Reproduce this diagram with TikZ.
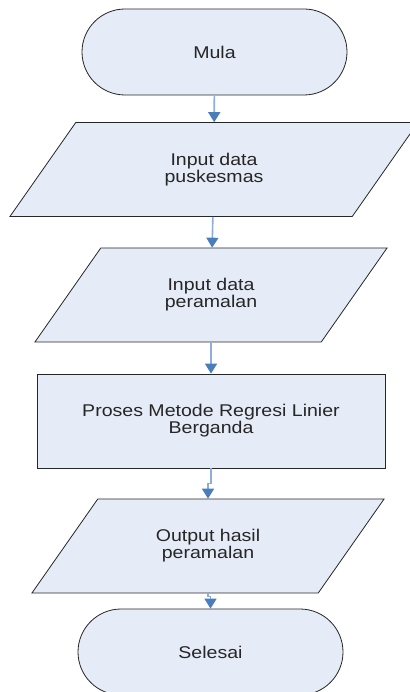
\documentclass[tikz,border=0pt]{standalone}
\usepackage{fontspec}
\setmainfont{Liberation Sans}[FakeStretch=1.15]
\usetikzlibrary{shapes.geometric,arrows.meta}
\definecolor{boxfill}{RGB}{230,236,247}
\definecolor{linkblue}{RGB}{142,172,220}
\definecolor{tipblue}{RGB}{74,126,187}
\begin{document}
\begin{tikzpicture}[x=1pt,y=-1pt,
		every node/.style={font=\fontsize{17}{17}\selectfont, align=center, text=black!85},
		term/.style={draw=black!85, line width=0.8pt, fill=boxfill, rectangle, rounded corners=43pt, minimum width=265pt, minimum height=86pt},
		io/.style={draw=black!85, line width=0.8pt, fill=boxfill, trapezium, trapezium left angle=55, trapezium right angle=125, trapezium stretches body, inner ysep=30.5pt, minimum width=352pt},
		proc/.style={draw=black!85, line width=0.8pt, fill=boxfill, rectangle, minimum width=348pt, minimum height=94pt},
		flow/.style={draw=linkblue, line width=1.6pt, -{Triangle[width=12pt,length=10pt,color=tipblue]}}]
		\useasboundingbox (0,0) rectangle (409,692);
		\node[term] (mula) at (214.5,52) {Mula};
		\node[io, minimum width=408pt] (inpus) at (214,169.5) {Input data\\puskesmas};
		\node[io] (inram) at (211,295) {Input data\\peramalan};
		\node[proc] (proses) at (211,421) {Proses Metode Regresi Linier\\Berganda};
		\node[io] (output) at (208,546) {Output hasil\\peramalan};
		\node[term] (selesai) at (210.5,652) {Selesai};
		\draw[flow] (mula) -- (inpus);
		\draw[flow] (inpus) -- (inram);
		\draw[flow] (inram) -- (proses);
		\draw[flow] (proses.south) -- ++(0,15) -| (output.north);
		\draw[flow] (output.south) -- ++(0,3) -| (selesai.north);
	\end{tikzpicture}
\end{document}
